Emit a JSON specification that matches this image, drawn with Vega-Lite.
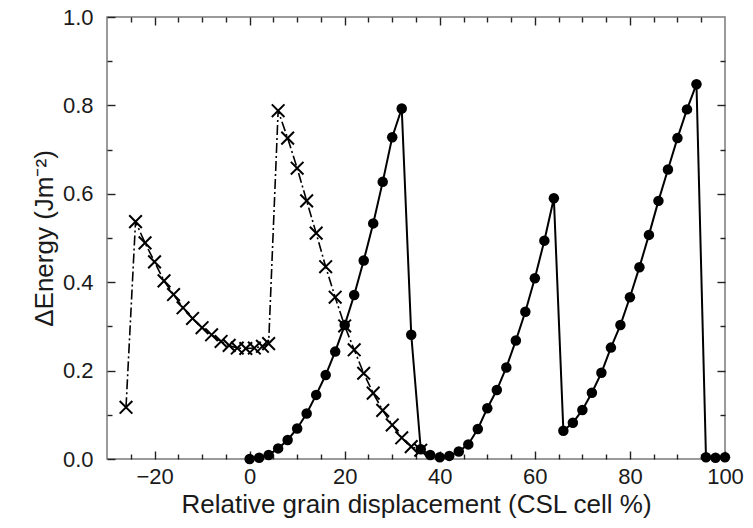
{
  "$schema": "https://vega.github.io/schema/vega-lite/v6.json",
  "width": 618,
  "height": 442,
  "autosize": "none",
  "padding": {"left": 107, "top": 17, "right": 28, "bottom": 69},
  "background": "white",
  "config": {
    "view": {"stroke": "#7a7a7a", "strokeWidth": 1.5},
    "axis": {
      "domain": false,
      "grid": false,
      "labelFont": "Liberation Sans",
      "titleFont": "Liberation Sans",
      "labelFontSize": 22,
      "titleFontSize": 26,
      "labelColor": "#1a1a1a",
      "titleColor": "#1a1a1a",
      "titleFontWeight": "normal",
      "tickColor": "#222222",
      "tickWidth": 1.4,
      "labelFlush": false
    }
  },
  "data": {
    "values": [
      {"series": "cross", "x": -26, "y": 0.117},
      {"series": "cross", "x": -24, "y": 0.537},
      {"series": "cross", "x": -22, "y": 0.489},
      {"series": "cross", "x": -20, "y": 0.446},
      {"series": "cross", "x": -18, "y": 0.403},
      {"series": "cross", "x": -16, "y": 0.372},
      {"series": "cross", "x": -14, "y": 0.342},
      {"series": "cross", "x": -12, "y": 0.318},
      {"series": "cross", "x": -10, "y": 0.297},
      {"series": "cross", "x": -8, "y": 0.281},
      {"series": "cross", "x": -6, "y": 0.266},
      {"series": "cross", "x": -4.3, "y": 0.257},
      {"series": "cross", "x": -2.6, "y": 0.251},
      {"series": "cross", "x": -0.8, "y": 0.25},
      {"series": "cross", "x": 1, "y": 0.251},
      {"series": "cross", "x": 2.7, "y": 0.255},
      {"series": "cross", "x": 4, "y": 0.261},
      {"series": "cross", "x": 6, "y": 0.788},
      {"series": "cross", "x": 8, "y": 0.726},
      {"series": "cross", "x": 10, "y": 0.658},
      {"series": "cross", "x": 12, "y": 0.584},
      {"series": "cross", "x": 14, "y": 0.511},
      {"series": "cross", "x": 16, "y": 0.435},
      {"series": "cross", "x": 18, "y": 0.366},
      {"series": "cross", "x": 20, "y": 0.301},
      {"series": "cross", "x": 22, "y": 0.247},
      {"series": "cross", "x": 24, "y": 0.194},
      {"series": "cross", "x": 26, "y": 0.149},
      {"series": "cross", "x": 28, "y": 0.11},
      {"series": "cross", "x": 30, "y": 0.077},
      {"series": "cross", "x": 32, "y": 0.048},
      {"series": "cross", "x": 34, "y": 0.028},
      {"series": "cross", "x": 36, "y": 0.02},
      {"series": "circle", "x": 0, "y": 0.0},
      {"series": "circle", "x": 2, "y": 0.003},
      {"series": "circle", "x": 4, "y": 0.009},
      {"series": "circle", "x": 6, "y": 0.024},
      {"series": "circle", "x": 8, "y": 0.043},
      {"series": "circle", "x": 10, "y": 0.069},
      {"series": "circle", "x": 12, "y": 0.103},
      {"series": "circle", "x": 14, "y": 0.145},
      {"series": "circle", "x": 16, "y": 0.19},
      {"series": "circle", "x": 18, "y": 0.243},
      {"series": "circle", "x": 20, "y": 0.303},
      {"series": "circle", "x": 22, "y": 0.371},
      {"series": "circle", "x": 24, "y": 0.449},
      {"series": "circle", "x": 26, "y": 0.533},
      {"series": "circle", "x": 28, "y": 0.627},
      {"series": "circle", "x": 30, "y": 0.728},
      {"series": "circle", "x": 32, "y": 0.793},
      {"series": "circle", "x": 34, "y": 0.281},
      {"series": "circle", "x": 36, "y": 0.022},
      {"series": "circle", "x": 38, "y": 0.009},
      {"series": "circle", "x": 40, "y": 0.004},
      {"series": "circle", "x": 42, "y": 0.007},
      {"series": "circle", "x": 44, "y": 0.017},
      {"series": "circle", "x": 46, "y": 0.033},
      {"series": "circle", "x": 48, "y": 0.068},
      {"series": "circle", "x": 50, "y": 0.115},
      {"series": "circle", "x": 52, "y": 0.156},
      {"series": "circle", "x": 54, "y": 0.207},
      {"series": "circle", "x": 56, "y": 0.268},
      {"series": "circle", "x": 58, "y": 0.333},
      {"series": "circle", "x": 60, "y": 0.409},
      {"series": "circle", "x": 62, "y": 0.494},
      {"series": "circle", "x": 64, "y": 0.59},
      {"series": "circle", "x": 66, "y": 0.064},
      {"series": "circle", "x": 68, "y": 0.082},
      {"series": "circle", "x": 70, "y": 0.111},
      {"series": "circle", "x": 72, "y": 0.15},
      {"series": "circle", "x": 74, "y": 0.195},
      {"series": "circle", "x": 76, "y": 0.252},
      {"series": "circle", "x": 78, "y": 0.303},
      {"series": "circle", "x": 80, "y": 0.366},
      {"series": "circle", "x": 82, "y": 0.434},
      {"series": "circle", "x": 84, "y": 0.507},
      {"series": "circle", "x": 86, "y": 0.584},
      {"series": "circle", "x": 88, "y": 0.655},
      {"series": "circle", "x": 90, "y": 0.726},
      {"series": "circle", "x": 92, "y": 0.791},
      {"series": "circle", "x": 94, "y": 0.848},
      {"series": "circle", "x": 96, "y": 0.004},
      {"series": "circle", "x": 98, "y": 0.003},
      {"series": "circle", "x": 100, "y": 0.004}
    ]
  },
  "resolve": {"axis": {"x": "independent", "y": "independent"}},
  "layer": [
    {
      "transform": [{"filter": "datum.series === 'cross'"}],
      "mark": {"type": "line", "color": "black", "strokeWidth": 1.6, "strokeDash": [10, 3, 2, 3]},
      "encoding": {
        "x": {
          "field": "x", "type": "quantitative",
          "scale": {"domain": [-30, 100], "nice": false, "zero": false},
          "axis": {
            "orient": "bottom",
            "values": [-20, 0, 20, 40, 60, 80, 100],
            "tickSize": -8,
            "labelPadding": 15,
            "title": "Relative grain displacement (CSL cell %)",
            "titleBaseline": "alphabetic",
            "titleY": 53
          }
        },
        "y": {
          "field": "y", "type": "quantitative",
          "scale": {"domain": [0, 1], "nice": false, "zero": false},
          "axis": {
            "orient": "left",
            "values": [0, 0.2, 0.4, 0.6, 0.8, 1.0],
            "format": ".1f",
            "tickSize": -8,
            "labelPadding": 22,
            "title": "ΔEnergy (Jm⁻²)",
            "titleBaseline": "alphabetic",
            "titleX": -55
          }
        }
      }
    },
    {
      "transform": [{"filter": "datum.series === 'cross'"}],
      "mark": {"type": "point", "shape": "M-1,-1L1,1M-1,1L1,-1", "filled": false, "stroke": "black", "strokeWidth": 2, "size": 160, "opacity": 1},
      "encoding": {
        "x": {
          "field": "x", "type": "quantitative",
          "scale": {"domain": [-30, 100], "nice": false, "zero": false},
          "axis": {
            "orient": "bottom",
            "values": [-25, -15, -10, -5, 5, 10, 15, 25, 30, 35, 45, 50, 55, 65, 70, 75, 85, 90, 95],
            "tickSize": -5,
            "labels": false,
            "title": null
          }
        },
        "y": {
          "field": "y", "type": "quantitative",
          "scale": {"domain": [0, 1], "nice": false, "zero": false},
          "axis": {
            "orient": "left",
            "values": [0.1, 0.3, 0.5, 0.7, 0.9],
            "tickSize": -5,
            "labels": false,
            "title": null
          }
        }
      }
    },
    {
      "transform": [{"filter": "datum.series === 'circle'"}],
      "mark": {"type": "line", "color": "black", "strokeWidth": 2},
      "encoding": {
        "x": {
          "field": "x", "type": "quantitative",
          "scale": {"domain": [-30, 100], "nice": false, "zero": false},
          "axis": {
            "orient": "top",
            "values": [-20, 0, 20, 40, 60, 80],
            "tickSize": -8,
            "labels": false,
            "title": null
          }
        },
        "y": {
          "field": "y", "type": "quantitative",
          "scale": {"domain": [0, 1], "nice": false, "zero": false},
          "axis": {
            "orient": "right",
            "values": [0.2, 0.4, 0.6, 0.8],
            "tickSize": -8,
            "labels": false,
            "title": null
          }
        }
      }
    },
    {
      "transform": [{"filter": "datum.series === 'circle'"}],
      "mark": {"type": "point", "shape": "circle", "filled": true, "color": "black", "size": 110, "opacity": 1},
      "encoding": {
        "x": {
          "field": "x", "type": "quantitative",
          "scale": {"domain": [-30, 100], "nice": false, "zero": false},
          "axis": {
            "orient": "top",
            "values": [-25, -15, -10, -5, 5, 10, 15, 25, 30, 35, 45, 50, 55, 65, 70, 75, 85, 90, 95],
            "tickSize": -5,
            "labels": false,
            "title": null
          }
        },
        "y": {
          "field": "y", "type": "quantitative",
          "scale": {"domain": [0, 1], "nice": false, "zero": false},
          "axis": {
            "orient": "right",
            "values": [0.1, 0.3, 0.5, 0.7, 0.9],
            "tickSize": -5,
            "labels": false,
            "title": null
          }
        }
      }
    }
  ]
}
